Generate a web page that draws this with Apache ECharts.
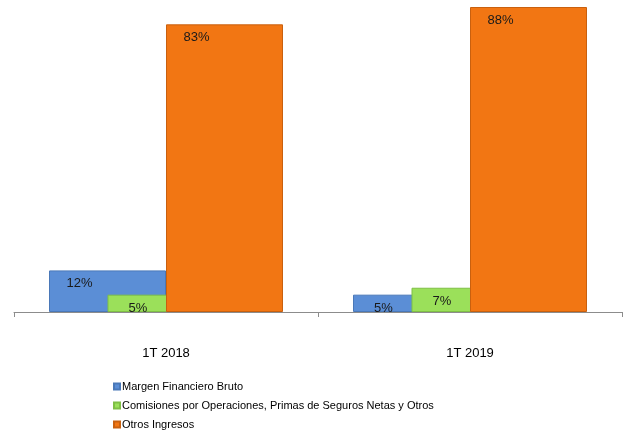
<!DOCTYPE html>
<html>
<head>
<meta charset="utf-8">
<script src="https://cdn.jsdelivr.net/npm/echarts@6/dist/echarts.min.js"></script>
<style>
  html, body { margin: 0; padding: 0; background: #fff; }
  #chart { width: 626px; height: 432px; }
</style>
</head>
<body>
<div id="chart"></div>
<script>
const categories = ['1T 2018', '1T 2019'];
const margen = [12, 5];
const comisiones = [5, 7];
const otros = [83, 88];

const seriesNames = [
  'Margen Financiero Bruto',
  'Comisiones por Operaciones, Primas de Seguros Netas y Otros',
  'Otros Ingresos'
];
const colors = ['#5b8ed6', '#9be05a', '#f27613'];
const edges = ['#4a78b8', '#7fbf45', '#c9600e'];

const chart = echarts.init(document.getElementById('chart'));

const makeSeries = (name, data, i) => ({
  name: name,
  type: 'bar',
  data: data,
  barWidth: 117,
  barGap: '-50%',
  itemStyle: {
    color: colors[i],
    borderColor: edges[i],
    borderWidth: 1
  },
  label: {
    show: true,
    position: 'insideTop',
    distance: 5,
    offset: [-28, 2],
    formatter: p => p.value + '%',
    fontFamily: 'Liberation Sans, Arial',
    fontSize: 13,
    color: '#1a1a1a'
  }
});

const option = {
  animation: false,
  grid: {
    left: 14,
    right: 4,
    top: 7,
    bottom: 120
  },
  legend: {
    orient: 'vertical',
    left: 113,
    top: 381,
    height: 60,
    padding: 0,
    itemWidth: 6,
    itemHeight: 6,
    itemGap: 8,
    icon: 'rect',
    textStyle: {
      fontFamily: 'Liberation Sans, Arial',
      fontSize: 11,
      color: '#000',
      padding: [0, 0, 0, -3]
    },
    data: seriesNames
  },
  xAxis: {
    type: 'category',
    data: categories,
    axisLine: { lineStyle: { color: '#8c8c8c', width: 1 } },
    axisTick: { show: true, length: 5, lineStyle: { color: '#8c8c8c' } },
    axisLabel: {
      margin: 35,
      fontFamily: 'Liberation Sans, Arial',
      fontSize: 13,
      color: '#000'
    }
  },
  yAxis: {
    type: 'value',
    min: 0,
    max: 88,
    show: false,
    splitLine: { show: false }
  },
  series: [
    makeSeries(seriesNames[0], margen, 0),
    makeSeries(seriesNames[1], comisiones, 1),
    makeSeries(seriesNames[2], otros, 2)
  ]
};

chart.setOption(option);
</script>
</body>
</html>
